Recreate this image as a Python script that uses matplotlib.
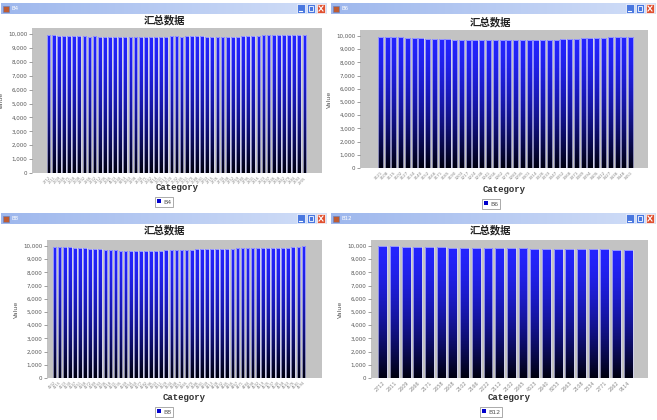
import numpy as np
import matplotlib.pyplot as plt
from matplotlib.patches import Rectangle
from matplotlib.ticker import FuncFormatter

W, H = 657, 420

# ---- data ----
b4_values = [9950, 9930, 9900, 9900, 9890, 9880, 9880, 9850, 9820, 9850, 9830, 9800, 9800,
             9820, 9800, 9780, 9790, 9800, 9820, 9800, 9830, 9800, 9790, 9780, 9860, 9850,
             9800, 9850, 9880, 9850, 9850, 9830, 9820, 9800, 9820, 9800, 9790, 9780, 9860,
             9880, 9880, 9900, 9920, 9930, 9930, 9920, 9910, 9920, 9950, 9960, 9980]
b4_labels = ("2712 2611 2609 2666 2171 2658 2608 2102 2166 2222 2112 2105 2665 4523 2640 8253 "
             "2663 2108 2334 2771 2662 9114 2601 2613 2620 2632 2645 2651 2670 2688 2691 2703 "
             "2715 2726 2734 2748 2752 2769 2780 2795 2801 2816 2823 2837 2846 2858 2862 2879 "
             "2884 2893 2905").split()

b6_values = [9950, 9920, 9900, 9890, 9870, 9850, 9820, 9800, 9780, 9760, 9740, 9720, 9700,
             9690, 9680, 9680, 9670, 9670, 9660, 9660, 9670, 9680, 9690, 9700, 9710, 9720,
             9730, 9750, 9770, 9790, 9810, 9830, 9850, 9870, 9890, 9910, 9930, 9950]
b6_labels = ("3121 3108 3115 3102 3127 3134 3140 3152 3166 3171 3185 3190 3203 3217 3224 3238 "
             "3241 3256 3262 3279 3283 3295 3301 3314 3326 3333 3347 3352 3368 3371 3389 3394 "
             "3405 3412 3427 3436 3448 3451").split()

b8_values = [9950, 9930, 9910, 9890, 9870, 9850, 9820, 9800, 9780, 9750, 9720, 9700, 9670,
             9640, 9620, 9600, 9580, 9590, 9610, 9620, 9640, 9650, 9670, 9680, 9700, 9710,
             9720, 9730, 9740, 9750, 9760, 9770, 9780, 9780, 9790, 9800, 9810, 9810, 9820,
             9830, 9840, 9840, 9850, 9860, 9860, 9870, 9880, 9900, 9930, 9960]
b8_labels = ("4102 4115 4123 4130 4147 4151 4168 4172 4189 4193 4206 4218 4221 4235 4249 4254 "
             "4260 4277 4282 4296 4303 4311 4329 4334 4348 4357 4365 4370 4386 4391 4409 4413 "
             "4428 4432 4445 4456 4467 4471 4484 4498 4502 4519 4525 4537 4540 4558 4563 4576 "
             "4581 4594").split()

b12_values = [9990, 9970, 9950, 9930, 9910, 9890, 9870, 9860, 9850, 9840, 9830, 9820, 9810,
              9800, 9800, 9790, 9780, 9770, 9760, 9740, 9720, 9700]
b12_labels = ("2712 2611 2609 2666 2171 2658 2608 2102 2166 2222 2112 2102 2665 4523 2640 "
              "8253 2663 2108 2334 2771 2662 9114").split()

chart_title = '汇总数据'


def box(x, y, w, h):
    # pixel box (top-left origin) -> figure fraction
    return [x / W, 1 - (y + h) / H, w / W, h / H]


fig = plt.figure(figsize=(W / 100, H / 100), dpi=100)
fig.patch.set_facecolor('white')

# vertical gradient used for every bar (top bright blue -> near black)
t = (np.linspace(0, 1, 256) ** 1.5)[:, None, None]
bar_grad = np.array([0.14, 0.14, 1.0]) * (1 - t) + np.array([0.0, 0.0, 0.06]) * t

# pale blue title bar gradient
tb = np.linspace(0, 1, 200)[None, :, None]
tbar_grad = np.array([0.62, 0.72, 0.93]) * (1 - tb) + np.array([0.82, 0.87, 0.97]) * tb
tbar_grad = np.repeat(tbar_grad, 2, axis=0)


def window_bar(x0, y0, w, name):
    ax = fig.add_axes(box(x0 + 1, y0 + 3, w - 2, 11))
    ax.imshow(tbar_grad, extent=(0, w - 2, 11, 0), aspect='auto')
    ax.set_xlim(0, w - 2)
    ax.set_ylim(11, 0)
    ax.axis('off')
    ax.add_patch(Rectangle((2, 2.5), 6, 6, fc='#c05a30', ec='#6080c0', lw=0.4))
    ax.text(10, 5.8, name, color='white', fontsize=4, va='center')
    bx = w - 2 - 30
    ax.add_patch(Rectangle((bx, 1), 8, 9, fc='#4a78e0', ec='white', lw=0.5))
    ax.add_patch(Rectangle((bx + 10, 1), 8, 9, fc='#4a78e0', ec='white', lw=0.5))
    ax.add_patch(Rectangle((bx + 20, 1), 8, 9, fc='#e05030', ec='white', lw=0.5))
    ax.plot([bx + 2, bx + 5], [7.8, 7.8], color='white', lw=0.8)
    ax.add_patch(Rectangle((bx + 12, 3), 4, 5, fc='none', ec='white', lw=0.6))
    ax.plot([bx + 22, bx + 26], [3, 8], color='white', lw=0.8)
    ax.plot([bx + 22, bx + 26], [8, 3], color='white', lw=0.8)


def bar_chart(plot, bar_span, y0, cx, name, values, labels, lab_fs, bw):
    px, py, pw, ph = plot
    ax = fig.add_axes(box(px, py, pw, ph))
    ax.set_facecolor('#c3c3c3')
    n = len(values)
    x = np.arange(n)
    bars = ax.bar(x, values, width=bw, color='none', edgecolor='#d8d8ff', linewidth=0.45,
                  zorder=3)
    for p in bars:
        im = ax.imshow(bar_grad, extent=(p.get_x(), p.get_x() + p.get_width(), 0, p.get_height()),
                       aspect='auto', zorder=2)
        im.set_clip_path(p)
    a, b = bar_span
    u = n / (b - a)
    ax.set_xlim(-0.5 - (a - px) * u, n - 0.5 + (px + pw - b) * u)
    ax.set_ylim(0, 10450)
    ax.set_yticks(range(0, 10001, 1000))
    ax.yaxis.set_major_formatter(FuncFormatter(lambda v, pos: f'{v:,.0f}'))
    ax.set_xticks(x)
    ax.set_xticklabels(labels, rotation=45, ha='right', rotation_mode='anchor',
                       fontsize=lab_fs, color='#888888')
    ax.tick_params(axis='y', labelsize=4, colors='#555555', length=2, width=0.4, pad=1.5)
    ax.tick_params(axis='x', length=0, pad=2)
    for s in ax.spines.values():
        s.set_visible(False)
    ax.set_ylabel('Value', fontsize=4.5, color='#555555', labelpad=3)

    fig.text(cx / W, 1 - (y0 + 20) / H, chart_title, ha='center', va='center',
             fontsize=7.5, fontweight='bold', family=['Noto Sans CJK SC', 'DejaVu Sans'],
             color='#222222')
    fig.text((px + pw / 2) / W, 1 - (y0 + 188) / H, 'Category', ha='center', va='center',
             fontsize=6.5, fontweight='bold', family='Liberation Mono', color='#333333')
    leg = ax.legend(handles=[Rectangle((0, 0), 1, 1, fc='#0000cc')], labels=[name],
                    loc='center', bbox_to_anchor=(cx / W, 1 - (y0 + 202) / H),
                    bbox_transform=fig.transFigure, fontsize=4.5, frameon=True,
                    fancybox=False, edgecolor='#888888', framealpha=1, handlelength=0.6,
                    handleheight=0.6, borderpad=0.35, handletextpad=0.4)
    leg.get_frame().set_linewidth(0.5)
    for txt in leg.get_texts():
        txt.set_color('#555555')


window_bar(0, 0, 328, 'B4')
window_bar(330, 0, 327, 'B6')
window_bar(0, 210, 328, 'B8')
window_bar(330, 210, 327, 'B12')

bar_chart((32, 28, 290, 145), (46, 307), 0, 164, 'B4', b4_values, b4_labels, 2.6, 0.72)
bar_chart((360, 30, 288, 138), (377, 634), 2, 491, 'B6', b6_values, b6_labels, 3.0, 0.76)
bar_chart((47, 240, 275, 138), (52, 306), 210, 164, 'B8', b8_values, b8_labels, 2.6, 0.72)
bar_chart((371, 240, 277, 138), (377, 634), 210, 491, 'B12', b12_values, b12_labels, 3.5, 0.76)

fig.savefig('out.png', dpi=100)
